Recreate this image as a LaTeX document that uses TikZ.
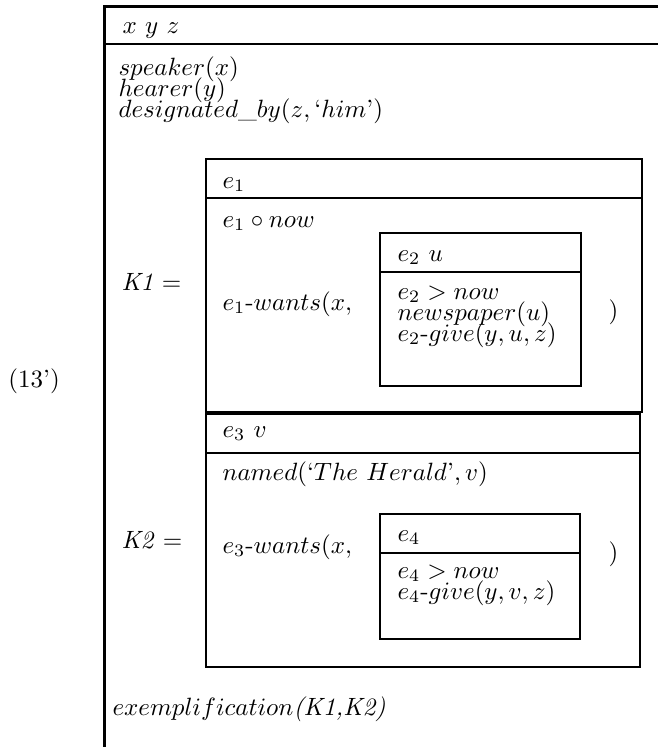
\documentclass[tikz,border=0pt]{standalone}
\usepackage{amsmath}
\usetikzlibrary{positioning}

\begin{document}
\begin{tikzpicture}[
  x=0.4pt, y=-0.4pt,
  every node/.style={inner sep=0pt, anchor=base west},
  spine/.style={line width=1.2pt},
  rule/.style={line width=0.8pt},
  drsbox/.style={draw, line width=0.8pt}
]
\useasboundingbox (0,0) rectangle (658,747);

% ---- Outer DRS ----
\draw [spine] (104,747) -- (104,6) -- (658,6);
\draw [rule]  (104,44) -- (658,44);

\node (num)   at (8,387)   {(13')};
\node (univ)  at (122,33)  {$x\ y\ z$};
\node (spk)   at (118,75)  {$speaker(x)$};
\node (hrr)   at (118,96)  {$hearer(y)$};
\node (dsg)   at (118,117) {$designated\_by(z,\mbox{`}him\mbox{'})$};

% ---- K1 ----
\node (kone)  at (121,290) {\textit{K1} $=$};
\draw [drsbox] (206,159) rectangle (642,412);
\draw [rule]   (206,198) -- (642,198);
\node (eone)  at (222,188) {$e_1$};
\node (ovl)   at (222,227) {$e_1 \circ now$};
\node (wone)  at (222,310) {$e_1\mbox{-}wants(x,$};
\node (cone)  at (608,318) {$)$};

\draw [drsbox] (380,233) rectangle (581,386);
\draw [rule]   (380,272) -- (581,272);
\node (etwo)  at (397,261) {$e_2\ u$};
\node (aftr)  at (397,299) {$e_2 > now$};
\node (news)  at (397,320) {$newspaper(u)$};
\node (gone)  at (397,341) {$e_2\mbox{-}give(y,u,z)$};

% ---- K2 ----
\node (ktwo)  at (121,548) {\textit{K2} $=$};
\draw [drsbox] (206,414) rectangle (640,667);
\draw [rule]   (206,453) -- (640,453);
\node (ethr)  at (222,437) {$e_3\ v$};
\node (nmd)   at (222,480) {$named(\mbox{`}The\ Herald\mbox{'},v)$};
\node (wtwo)  at (222,553) {$e_3\mbox{-}wants(x,$};
\node (ctwo)  at (608,560) {$)$};

\draw [drsbox] (380,514) rectangle (580,639);
\draw [rule]   (380,553) -- (580,553);
\node (efour) at (397,541) {$e_4$};
\node (aftwo) at (397,578) {$e_4 > now$};
\node (gtwo)  at (397,599) {$e_4\mbox{-}give(y,v,z)$};

% ---- Condition on K1, K2 ----
\node (exm)   at (112,715) {$exemplification$\textit{(K1,K2)}};
\end{tikzpicture}
\end{document}
